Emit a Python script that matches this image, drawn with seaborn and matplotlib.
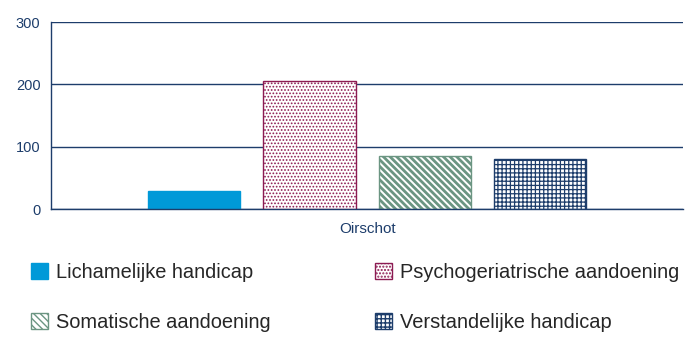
import matplotlib
matplotlib.use("Agg")
import matplotlib.pyplot as plt
import seaborn as sns
import pandas as pd
from matplotlib.patches import Patch

# Values
regio = ["Oirschot"]
categorieen = [
    "Lichamelijke handicap",
    "Psychogeriatrische aandoening",
    "Somatische aandoening",
    "Verstandelijke handicap",
]
waarden = [29, 205, 85, 80]
y_ticks = [0, 100, 200, 300]

navy = "#1d3d6b"
faces = ["#0099d8", "white", "white", "white"]
edges = ["#0099d8", "#8c1b52", "#6b9582", navy]
hatches = [None, ".....", "\\\\\\\\\\", "++++"]
hatch_lw = [1.0, 0.8, 2.0, 0.9]

df = pd.DataFrame({
    "regio": regio * len(categorieen),
    "categorie": categorieen,
    "waarde": waarden,
})

sns.set_style("white")
plt.rcParams["font.family"] = ["Liberation Sans", "DejaVu Sans"]

fig = plt.figure(figsize=(6.98, 3.44), dpi=100)
ax = fig.add_axes([0.073, 0.392, 0.906, 0.544])

sns.barplot(data=df, x="regio", y="waarde", hue="categorie",
            hue_order=categorieen, width=0.73, gap=0.2,
            legend=False, ax=ax)


def style_patch(p, fc, ec, h, lw):
    p.set_facecolor(fc)
    p.set_edgecolor(ec)
    p.set_linewidth(1.0)
    if h:
        p.set_hatch(h)
        if hasattr(p, "set_hatch_linewidth"):
            p.set_hatch_linewidth(lw)
        else:
            p._hatch_linewidth = lw


for bars, fc, ec, h, lw in zip(ax.containers, faces, edges, hatches, hatch_lw):
    for b in bars:
        style_patch(b, fc, ec, h, lw)

ax.set_xlim(-0.5, 0.5)
ax.set_ylim(0, 300)
ax.set_yticks(y_ticks)
ax.grid(axis="y", color=navy, linewidth=1.0)
ax.set_axisbelow(True)
ax.set_xlabel("")
ax.set_ylabel("")

for s in ["top", "right"]:
    ax.spines[s].set_visible(False)
for s in ["left", "bottom"]:
    ax.spines[s].set_color(navy)
    ax.spines[s].set_linewidth(1.0)

ax.tick_params(axis="y", colors=navy, labelsize=10.5, length=4, width=1.0)
ax.tick_params(axis="x", which="major", colors=navy, labelsize=11, length=0, pad=9)
ax.set_xticks([-0.5, 0.5], minor=True)
ax.tick_params(axis="x", which="minor", color=navy, length=4, width=1.0)

# legend is filled row by row in the reference
order = [0, 2, 1, 3]
handles = []
for i in order:
    p = Patch()
    style_patch(p, faces[i], edges[i], hatches[i], hatch_lw[i] * 0.8)
    handles.append(p)
fig.legend(handles, [categorieen[i] for i in order], ncol=2, loc="upper left",
           bbox_to_anchor=(0.044, 0.235), frameon=False, fontsize=14.4,
           handlelength=0.86, handleheight=0.86, handletextpad=0.4,
           labelspacing=1.55, columnspacing=5.2, borderaxespad=0,
           borderpad=0)

fig.savefig("out.png", dpi=100)
